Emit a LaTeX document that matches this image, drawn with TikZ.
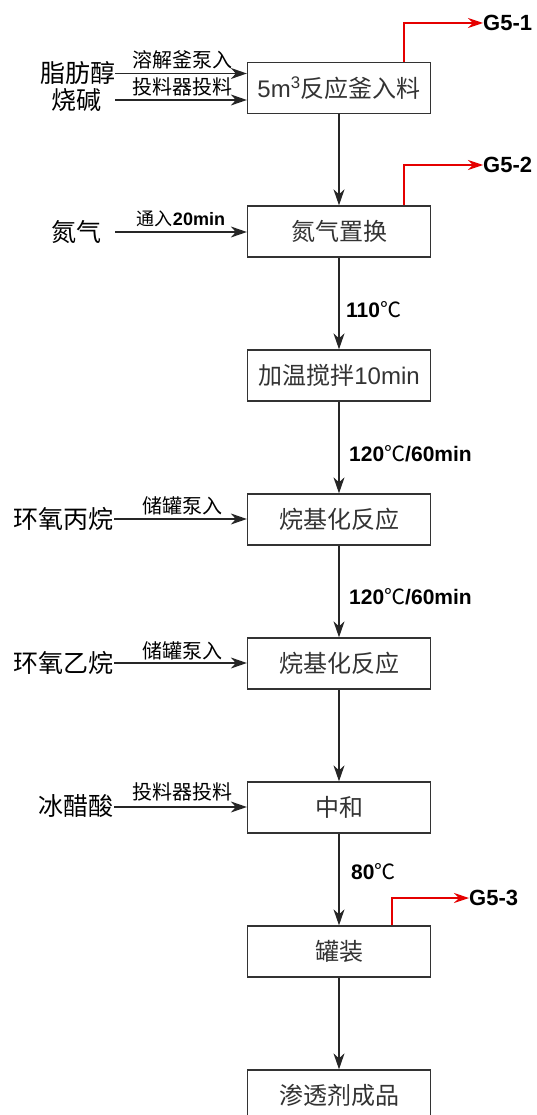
\documentclass[tikz,border=0pt]{standalone}
\usepackage{fontspec}
\setmainfont{Liberation Sans}
\newfontfamily\cjk{Noto Sans CJK SC}
\usetikzlibrary{arrows.meta}
\begin{document}
\begin{tikzpicture}[x=1pt,y=-1pt,
  box/.style={draw=black!80,line width=1.3pt,minimum width=183pt,minimum height=51pt,inner sep=0pt,
    font=\fontsize{24}{24}\selectfont\cjk,text=black!80},
  flow/.style={draw=black!85,line width=1.4pt,-{Stealth[length=16pt,width=11pt,inset=5pt]}},
  vent/.style={draw=red!90!black,line width=1.2pt,-{Stealth[length=15pt,width=10pt,inset=5pt]}},
  src/.style={font=\fontsize{25}{25}\selectfont\cjk,inner sep=0pt},
  lbl/.style={font=\fontsize{20}{20}\selectfont\cjk,inner sep=0pt},
  cond/.style={font=\fontsize{21}{21}\selectfont\bfseries,anchor=west,inner sep=0pt},
  gas/.style={font=\fontsize{22}{22}\selectfont\bfseries,anchor=west,inner sep=0pt}]
\clip (0,0) rectangle (536,1115);
\useasboundingbox (0,0) rectangle (536,1115);
\fill[white] (0,0) rectangle (536,1115);

% process boxes
\node[box] (b1) at (339,87.75) {{\rmfamily 5m\textsuperscript{3}}反应釜入料};
\node[box] (b2) at (339,231.5) {氮气置换};
\node[box] (b3) at (339,375.5) {加温搅拌{\rmfamily 10min}};
\node[box] (b4) at (339,519.5) {烷基化反应};
\node[box] (b5) at (339,663.5) {烷基化反应};
\node[box] (b6) at (339,807.5) {中和};
\node[box] (b7) at (339,951.5) {罐装};
\node[box] (b8) at (339,1095.5) {渗透剂成品};

% main flow
\draw[flow] (b1) -- (b2);
\draw[flow] (b2) -- (b3);
\draw[flow] (b3) -- (b4);
\draw[flow] (b4) -- (b5);
\draw[flow] (b5) -- (b6);
\draw[flow] (b6) -- (b7);
\draw[flow] (b7) -- (b8);

% conditions
\node[cond] (c1) at (346,310) {110{\cjk\mdseries ℃}};
\node[cond] (c2) at (349,454) {120{\cjk\mdseries ℃}/60min};
\node[cond] (c3) at (349,597) {120{\cjk\mdseries ℃}/60min};
\node[cond] (c4) at (351,872) {80{\cjk\mdseries ℃}};

% raw material inputs
\node[src] (s1) at (78,73) {脂肪醇};
\node[src] (s2) at (76,100) {烧碱};
\coordinate (s1e) at (115,73.5);
\coordinate (s2e) at (115,100);
\draw[flow] (s1e) -- (s1e -| b1.west);
\draw[flow] (s2e) -- (s2e -| b1.west);
\node[lbl] (l1) at (182,60) {溶解釜泵入};
\node[lbl] (l2) at (182,86.5) {投料器投料};

\node[src] (s3) at (76,232) {氮气};
\coordinate (s3e) at (115,232);
\draw[flow] (s3e) -- (s3e -| b2.west);
\node[lbl,font=\fontsize{18}{18}\selectfont\bfseries] (l3) at (181,219) {{\cjk\mdseries 通入}20min};

\node[src] (s4) at (63,519) {环氧丙烷};
\coordinate (s4e) at (114,519);
\draw[flow] (s4e) -- (s4e -| b4.west);
\node[lbl] (l4) at (182,506) {储罐泵入};

\node[src] (s5) at (63,663) {环氧乙烷};
\coordinate (s5e) at (114,663);
\draw[flow] (s5e) -- (s5e -| b5.west);
\node[lbl] (l5) at (182,651) {储罐泵入};

\node[src] (s6) at (76,806) {冰醋酸};
\coordinate (s6e) at (114,807);
\draw[flow] (s6e) -- (s6e -| b6.west);
\node[lbl] (l6) at (182,792) {投料器投料};

% gas emissions
\node[gas] (g1) at (483,23) {G5-1};
\node[gas] (g2) at (483,165) {G5-2};
\node[gas] (g3) at (469,898) {G5-3};
\draw[vent] ([xshift=65pt]b1.north) |- (g1.west);
\draw[vent] ([xshift=65pt]b2.north) |- (g2.west);
\draw[vent] ([xshift=53pt]b7.north) |- (g3.west);
\end{tikzpicture}
\end{document}
